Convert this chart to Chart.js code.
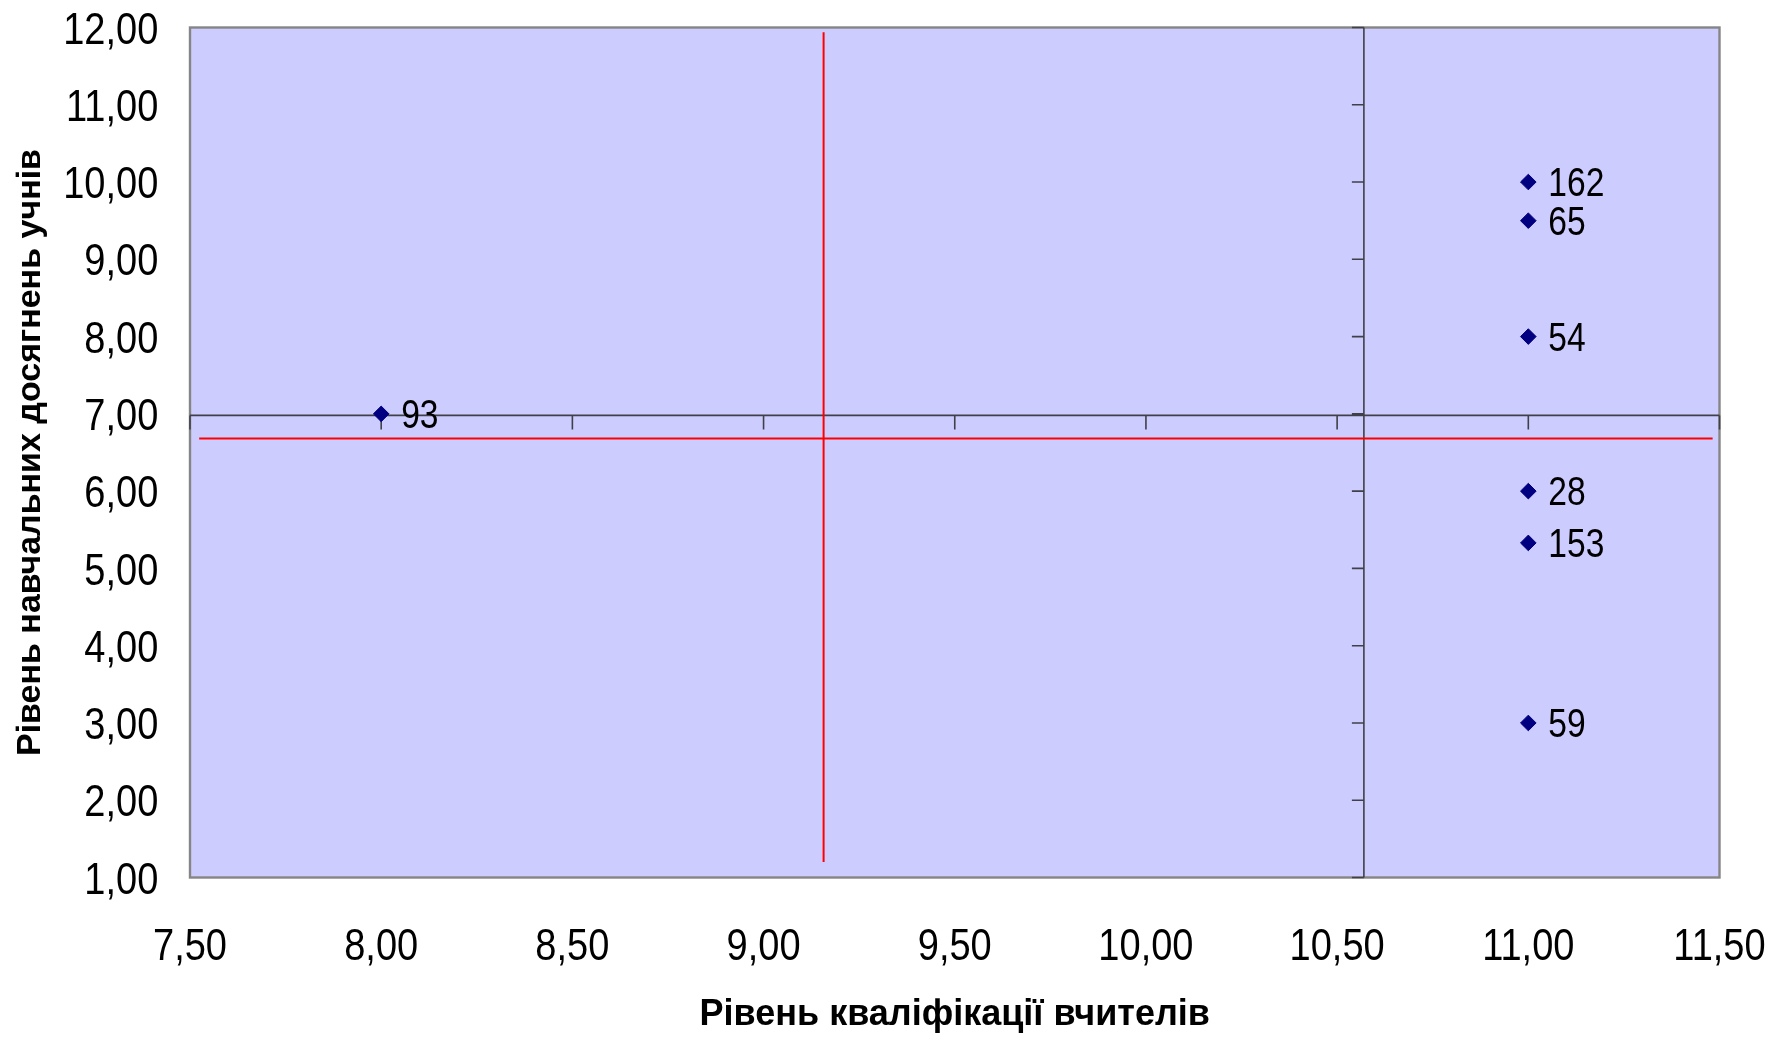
<!DOCTYPE html>
<html><head><meta charset="utf-8">
<script src="https://cdn.jsdelivr.net/npm/chart.js@4.4.1/dist/chart.umd.min.js"></script>
<style>html,body{margin:0;padding:0;background:#fff;} #wrap{width:1789px;height:1042px;}</style>
</head><body><div id="wrap"><canvas id="c" width="1789" height="1042"></canvas></div>
<script>
// ---- data ----
const schoolIds    = ['162', '65', '54', '93', '28', '153', '59'];
const teacherLevel = [11, 11, 11, 8, 11, 11, 11];
const studentLevel = [10, 9.5, 8, 7, 6, 5.33, 3];
const xAxisTitle = 'Рівень кваліфікації вчителів';
const yAxisTitle = 'Рівень навчальних досягнень учнів';
const xRange = [7.5, 11.5];
const xStep = 0.5;
const yRange = [1, 12];
const yStep = 1;
const axisCross = [10.57, 6.98];          // x where vertical axis crosses, y where horizontal axis crosses
const redVerticalX = [9.157, 9.157];
const redVerticalY = [1.2, 11.94];
const redHorizontalX = [7.524, 11.482];
const redHorizontalY = [6.68, 6.68];

const FAMILY = '"Liberation Sans", Arial, sans-serif';
const fmt = v => Number(v).toFixed(2).replace('.', ',');

const points = teacherLevel.map((x, i) => ({x: x, y: studentLevel[i]}));
const redV = redVerticalX.map((x, i) => ({x: x, y: redVerticalY[i]}));
const redH = redHorizontalX.map((x, i) => ({x: x, y: redHorizontalY[i]}));

// draws horizontally condensed text (Excel-like narrow digits), vertically centred on yCenter
function drawText(ctx, text, x, yCenter, align, size, sx) {
  ctx.save();
  ctx.font = size + 'px ' + FAMILY;
  ctx.textBaseline = 'alphabetic';
  ctx.textAlign = 'left';
  ctx.fillStyle = '#000';
  const w = ctx.measureText(text).width * sx;
  const left = align === 'right' ? x - w : align === 'center' ? x - w / 2 : x;
  ctx.translate(left, yCenter + 0.358 * size);
  ctx.scale(sx, 1);
  ctx.fillText(text, 0, 0);
  ctx.restore();
}

const plotDecor = {
  id: 'plotDecor',
  beforeDraw(chart) {
    const {ctx, chartArea: a} = chart;
    ctx.save();
    ctx.fillStyle = '#CCCCFF';
    ctx.fillRect(a.left, a.top, a.right - a.left, a.bottom - a.top);
    ctx.restore();
  },
  beforeDatasetsDraw(chart) {
    const {ctx, chartArea: a, scales: {x, y}} = chart;
    ctx.save();
    // plot border
    ctx.strokeStyle = '#858585';
    ctx.lineWidth = 2.4;
    ctx.strokeRect(a.left, a.top, a.right - a.left, a.bottom - a.top);
    // crossing axes
    const yc = y.getPixelForValue(axisCross[1]);
    const xc = x.getPixelForValue(axisCross[0]);
    ctx.strokeStyle = '#404048';
    ctx.lineWidth = 1.6;
    ctx.beginPath();
    ctx.moveTo(a.left, yc); ctx.lineTo(a.right, yc);
    ctx.moveTo(xc, a.top); ctx.lineTo(xc, a.bottom);
    x.ticks.forEach(t => {
      const px = x.getPixelForValue(t.value);
      ctx.moveTo(px, yc); ctx.lineTo(px, yc + 14);
    });
    y.ticks.forEach(t => {
      const py = y.getPixelForValue(t.value);
      ctx.moveTo(xc, py); ctx.lineTo(xc - 12, py);
    });
    ctx.stroke();
    ctx.restore();
    // tick labels (low position, at plot edges)
    x.ticks.forEach(t => drawText(ctx, fmt(t.value), x.getPixelForValue(t.value), 943.7, 'center', 45, 0.845));
    y.ticks.forEach(t => drawText(ctx, fmt(t.value), 158.3, y.getPixelForValue(t.value), 'right', 45, 0.845));
  },
  afterDatasetsDraw(chart) {
    const {ctx} = chart;
    const meta = chart.getDatasetMeta(0);
    meta.data.forEach((el, i) => drawText(ctx, schoolIds[i], el.x + 20, el.y, 'left', 40, 0.84));
  }
};

new Chart(document.getElementById('c'), {
  type: 'scatter',
  data: {
    datasets: [
      {data: points, pointStyle: 'rectRot', pointRadius: 7.8, pointHoverRadius: 7.8,
       backgroundColor: '#000080', borderColor: '#000080', borderWidth: 1, showLine: false},
      {data: redV, showLine: true, borderColor: '#FF0000', borderWidth: 2, pointRadius: 0, pointHoverRadius: 0, fill: false},
      {data: redH, showLine: true, borderColor: '#FF0000', borderWidth: 2, pointRadius: 0, pointHoverRadius: 0, fill: false}
    ]
  },
  options: {
    responsive: false,
    animation: false,
    events: [],
    layout: {padding: {top: 27.5, right: 69.5, left: 0, bottom: 0}},
    plugins: {legend: {display: false}, tooltip: {enabled: false}},
    scales: {
      x: {
        type: 'linear', position: 'bottom',
        min: xRange[0], max: xRange[1],
        grid: {display: false, drawTicks: false},
        border: {display: false},
        ticks: {stepSize: xStep, display: false, callback: v => fmt(v), autoSkip: false},
        title: {display: true, text: xAxisTitle, color: '#000', font: {family: FAMILY, size: 36, weight: 'bold'}, padding: {top: 0, bottom: 5}},
        afterFit(s) { s.height = 1042 - 877.5; s.paddingLeft = 0; s.paddingRight = 0; s.paddingTop = 0; s.paddingBottom = 0; }
      },
      y: {
        type: 'linear', position: 'left',
        min: yRange[0], max: yRange[1],
        grid: {display: false, drawTicks: false},
        border: {display: false},
        ticks: {stepSize: yStep, display: false, callback: v => fmt(v), autoSkip: false},
        title: {display: true, text: yAxisTitle, color: '#000', font: {family: FAMILY, size: 34, weight: 'bold'}, padding: {top: 10, bottom: 0}},
        afterFit(s) { s.width = 190; s.paddingLeft = 0; s.paddingRight = 0; s.paddingTop = 0; s.paddingBottom = 0; }
      }
    }
  },
  plugins: [plotDecor]
});
</script>
</body></html>
